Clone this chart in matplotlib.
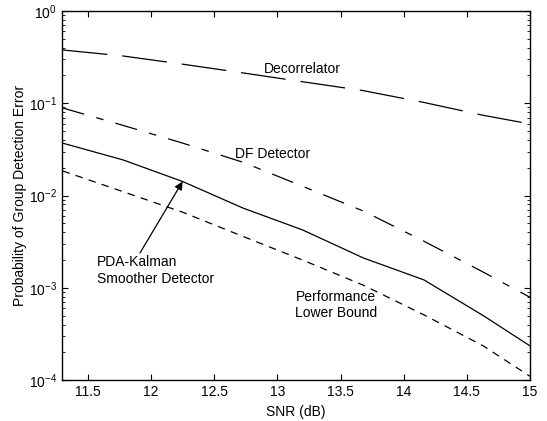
import numpy as np
import matplotlib.pyplot as plt

plt.rcParams['font.family'] = ['Liberation Sans', 'DejaVu Sans']
plt.rcParams['mathtext.default'] = 'regular'

snr = [11.3, 11.78, 12.25, 12.73, 13.2, 13.68, 14.16, 14.63, 15.0]
decorrelator = [0.378, 0.325, 0.265, 0.213, 0.171, 0.137, 0.102, 0.074, 0.0597]
df_detector = [0.089, 0.0575, 0.037, 0.0229, 0.0126, 0.0068, 0.0032, 0.00148, 0.00079]
pda_kalman = [0.037, 0.0243, 0.0142, 0.0073, 0.00424, 0.00211, 0.00122, 0.0005, 0.000235]
lower_bound = [0.0185, 0.011, 0.0066, 0.0036, 0.002, 0.00107, 0.00051, 0.000235, 0.00011]

xticks = [11.5, 12, 12.5, 13, 13.5, 14, 14.5, 15]

fig = plt.figure(figsize=(5.47, 4.21), dpi=100)
ax = fig.add_axes([0.113, 0.097, 0.856, 0.877])

lw = 0.9
ax.plot(snr, decorrelator, color='black', lw=lw, dashes=(36, 12))
ax.plot(snr, df_detector, color='black', lw=lw, dashes=(18, 10, 6, 10))
ax.plot(snr, pda_kalman, color='black', lw=lw)
ax.plot(snr, lower_bound, color='black', lw=lw, dashes=(6, 5))

ax.set_yscale('log')
ax.set_xlim(11.294, 15)
ax.set_ylim(1e-4, 1)
ax.set_xticks(xticks)
ax.set_xticklabels([f'{t:g}' for t in xticks])

ax.tick_params(which='both', direction='in', top=True, right=True, labelsize=10)
ax.tick_params(which='major', length=4)
ax.tick_params(which='minor', length=2)
for s in ax.spines.values():
    s.set_linewidth(1.0)

ax.set_xlabel('SNR (dB)', fontsize=10, labelpad=4)
ax.set_ylabel('Probability of Group Detection Error', fontsize=10, labelpad=1)

fs = 10
ax.text(12.89, 0.235, 'Decorrelator', fontsize=fs, va='center', ha='left')
ax.text(12.667, 0.0283, 'DF Detector', fontsize=fs, va='center', ha='left')
ax.text(11.57, 10**-2.72, 'PDA-Kalman', fontsize=fs, va='center', ha='left')
ax.text(11.57, 10**-2.90, 'Smoother Detector', fontsize=fs, va='center', ha='left')
ax.text(13.143, 8e-4, 'Performance', fontsize=fs, va='center', ha='left')
ax.text(13.143, 5.4e-4, 'Lower Bound', fontsize=fs, va='center', ha='left')

ax.annotate('', xy=(12.25, 0.0142), xytext=(11.913, 2.39e-3),
            arrowprops=dict(arrowstyle='-|>', color='black', lw=0.9,
                            mutation_scale=12, shrinkA=0, shrinkB=0))

fig.savefig('out.png', dpi=100)
